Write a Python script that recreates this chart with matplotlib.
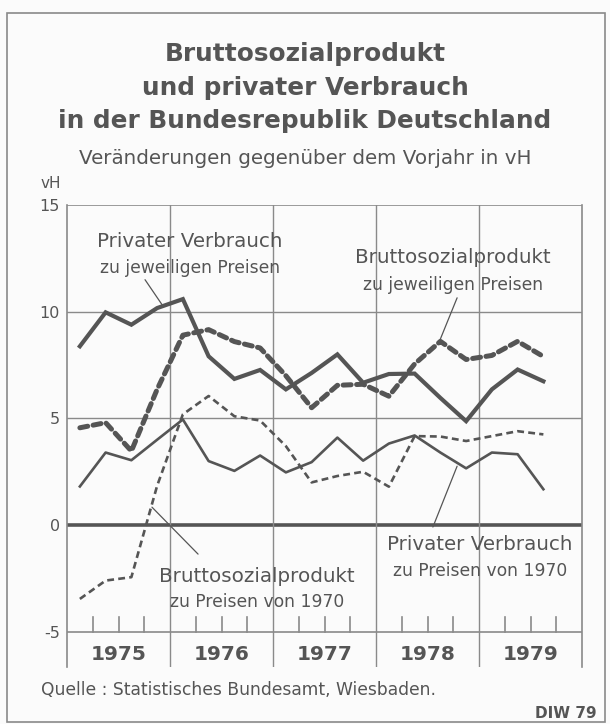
import matplotlib
matplotlib.use("Agg")
from matplotlib import pyplot as plt
import numpy as np

# quarterly values, 1975 Q1 .. 1979 Q3 (change vs previous year, vH)
years = ["1975", "1976", "1977", "1978", "1979"]
pv_nominal = [8.38, 9.97, 9.39, 10.17, 10.59, 7.91, 6.85, 7.27, 6.36, 7.13,
              8.0, 6.67, 7.08, 7.1, 5.96, 4.87, 6.36, 7.29, 6.74]
bsp_nominal = [4.56, 4.8, 3.47, 6.36, 8.9, 9.16, 8.6, 8.3, 7.0, 5.5,
               6.55, 6.6, 6.04, 7.55, 8.61, 7.76, 7.95, 8.61, 7.9]
pv_real = [1.81, 3.4, 3.04, 4.0, 4.95, 3.0, 2.54, 3.26, 2.47, 2.95,
           4.1, 3.02, 3.82, 4.2, 3.4, 2.66, 3.4, 3.32, 1.68]
bsp_real = [-3.46, -2.6, -2.44, 1.84, 5.19, 6.05, 5.1, 4.9, 3.7, 2.0,
            2.3, 2.5, 1.8, 4.17, 4.15, 3.94, 4.17, 4.4, 4.25]

ink = "#555555"
grid = "#8a8a8a"
bg = "#fbfbfb"
font = "DejaVu Sans"

fig = plt.figure(figsize=(6.1, 7.24), dpi=100, facecolor=bg)
ax = fig.add_axes([67 / 610, 1 - 667 / 724, 515 / 610, 462 / 724])
ax.set_facecolor(bg)

x = np.arange(len(pv_nominal)) + 0.5
ax.set_xlim(0, 20)
ax.set_ylim(-6.65, 15)

# frame / grid
for s in ["top", "bottom"]:
    ax.spines[s].set_visible(False)
for s in ["left", "right"]:
    ax.spines[s].set_color(grid)
    ax.spines[s].set_linewidth(1.2)
ax.axhline(15, color=grid, lw=1.2)
ax.axhline(10, color=grid, lw=1.0)
ax.axhline(5, color=grid, lw=1.0)
ax.axhline(-5, color=grid, lw=1.2)
ax.axhline(0, color=ink, lw=2.6)
for yb in range(4, 20, 4):
    ax.axvline(yb, color=grid, lw=1.0)
for q in range(20):
    if q % 4:
        ax.plot([q, q], [-5, -4.3], color=grid, lw=1.2)

ax.plot(x, pv_nominal, color=ink, lw=3.0, solid_joinstyle="miter")
ax.plot(x, bsp_nominal, color=ink, lw=3.6, dashes=(1.6, 1.1),
        dash_capstyle="round")
ax.plot(x, pv_real, color=ink, lw=1.9)
ax.plot(x, bsp_real, color=ink, lw=1.9, dashes=(2.6, 1.6))

ax.set_xticks([])
ax.set_yticks([-5, 0, 5, 10, 15])
ax.set_yticklabels(["-5", "0", "5", "10", "15"], family=font, fontsize=11.5,
                   color=ink)
ax.tick_params(axis="y", length=0, pad=5)

for k, yr in enumerate(years):
    ax.text(4 * k + 2, -6.05, yr, ha="center", va="center", fontsize=14.5,
            fontweight="bold", color=ink, family=font)

# labels with leader lines
def label(cx, cy1, cy2, top, bottom, p1, p2):
    ax.text(cx, cy1, top, ha="center", va="center", fontsize=14.3,
            color=ink, family=font)
    ax.text(cx, cy2, bottom, ha="center", va="center", fontsize=12.3,
            color=ink, family=font)
    ax.annotate("", xy=p2, xytext=p1,
                arrowprops=dict(arrowstyle="-", color=ink, lw=0.9,
                                shrinkA=0, shrinkB=0))

label(4.78, 13.27, 12.06, "Privater Verbrauch", "zu jeweiligen Preisen",
      (3.03, 11.5), (3.69, 10.33))
label(14.99, 12.52, 11.26, "Bruttosozialprodukt", "zu jeweiligen Preisen",
      (15.15, 10.65), (14.49, 8.69))
label(7.38, -2.43, -3.6, "Bruttosozialprodukt", "zu Preisen von 1970",
      (5.09, -1.36), (3.30, 0.84))
label(16.04, -0.89, -2.15, "Privater Verbrauch", "zu Preisen von 1970",
      (14.21, -0.09), (15.15, 2.76))

# titles and notes
for txt, py in [("Bruttosozialprodukt", 54), ("und privater Verbrauch", 88),
                ("in der Bundesrepublik Deutschland", 121)]:
    fig.text(0.5, 1 - py / 724, txt, ha="center", va="center", fontsize=17.8,
             fontweight="bold", color=ink, family=font)
fig.text(0.5, 1 - 158 / 724, "Veränderungen gegenüber dem Vorjahr in vH",
         ha="center", va="center", fontsize=14.3, color=ink, family=font)
fig.text(41 / 610, 1 - 183 / 724, "vH", ha="left", va="center", fontsize=11,
         color=ink, family=font)
fig.text(41 / 610, 1 - 690 / 724, "Quelle : Statistisches Bundesamt, Wiesbaden.",
         ha="left", va="center", fontsize=12.3, color=ink, family=font)
fig.text(597 / 610, 1 - 713 / 724, "DIW 79", ha="right", va="center",
         fontsize=11, fontweight="bold", color=ink, family=font)

# outer frame
fig.add_artist(plt.Rectangle((7 / 610, 2 / 724), 598 / 610, 709 / 724,
                             transform=fig.transFigure, fill=False,
                             edgecolor=grid, lw=1.2))

fig.savefig("out.png", dpi=100, facecolor=bg)
